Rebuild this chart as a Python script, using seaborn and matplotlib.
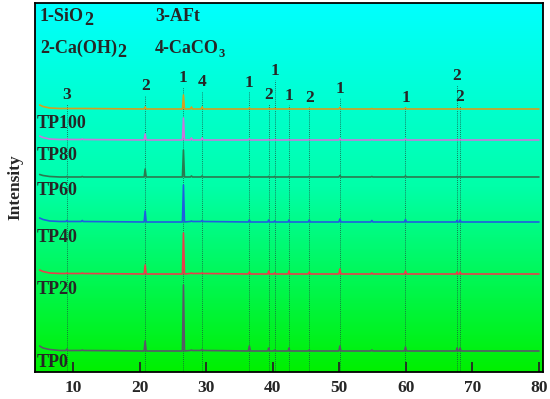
import numpy as np
import pandas as pd
import matplotlib
matplotlib.use("Agg")
import matplotlib.pyplot as plt
from matplotlib.colors import LinearSegmentedColormap
import seaborn as sns

sns.set_style("ticks")
plt.rcParams['font.family'] = ['Liberation Serif', 'DejaVu Serif']
plt.rcParams['font.weight'] = 'bold'
plt.rcParams['mathtext.fontset'] = 'custom'
plt.rcParams['mathtext.rm'] = 'Liberation Serif:bold'
plt.rcParams['mathtext.bf'] = 'Liberation Serif:bold'
plt.rcParams['mathtext.it'] = 'Liberation Serif:bold'

# ---------------- data ----------------
two_theta = [5.0, 5.5, 6.5, 8.0,
             8.95, 9.1, 9.25, 11.25, 11.4, 11.55, 20.7, 20.85, 21.0,
             26.45, 26.6, 26.75, 27.65, 27.8, 27.95, 29.25, 29.4, 29.55,
             36.35, 36.5, 36.65, 39.28, 39.4, 39.52, 40.18, 40.3, 40.42,
             42.33, 42.45, 42.57, 45.35, 45.5, 45.65, 49.95, 50.1, 50.25,
             54.75, 54.9, 55.05, 59.8, 59.95, 60.1, 67.58, 67.7, 67.82,
             68.03, 68.15, 68.3, 80.0]

tp0 = [5, 3, 1.5, 0.5,
       0.5, 2, 0.5, 0.5, 1, 0.5, 0, 10, 0,
       0, 66, 0, 0.5, 1, 0.5, 0.5, 1.5, 0.5,
       0, 5, 0, 0, 3, 0, 0, 1, 0,
       0, 3, 0, 0, 1, 0, 0, 5, 0,
       0, 1, 0, 0, 4, 0, 0, 3, 0,
       0, 3, 0, 0]
tp20 = [4, 2.5, 1, 0.5,
        0.5, 1, 0.5, 0.5, 1, 0.5, 0, 9, 0,
        0, 41, 0, 0.5, 1, 0.5, 0.5, 1, 0.5,
        0, 2, 0, 0, 3, 0, 0, 1, 0,
        0, 3, 0, 0, 2, 0, 0, 5, 0,
        0, 1, 0, 0, 3, 0, 0, 2, 0,
        0, 2, 0, 0]
tp40 = [4, 2.5, 1, 0.5,
        0.5, 1.5, 0.5, 0.5, 1.5, 0.5, 0, 11, 0,
        0, 37, 0, 0.5, 1, 0.5, 0.5, 1.5, 0.5,
        0, 2, 0, 0, 2, 0, 0, 1, 0,
        0, 2, 0, 0, 2, 0, 0, 3, 0,
        0, 1.5, 0, 0, 2.5, 0, 0, 1.5, 0,
        0, 2, 0, 0]
tp60 = [2.5, 1.5, 0.5, 0,
        0, 0.5, 0, 0, 0.5, 0, 0, 8, 0,
        0, 27, 0, 0, 1, 0, 0, 1, 0,
        0, 1, 0, 0, 0.5, 0, 0, 0.5, 0,
        0, 0.5, 0, 0, 0.5, 0, 0, 1.5, 0,
        0, 0.5, 0, 0, 1, 0, 0, 0.5, 0,
        0, 0.5, 0, 0]
tp80 = [4, 2.5, 1, 0.5,
        0.5, 1, 0.5, 0.5, 1, 0.5, 0, 6, 0,
        0, 22, 0, 0, 2, 0, 0, 2, 0,
        0, 1, 0, 0, 0.5, 0, 0, 0.5, 0,
        0, 0.5, 0, 0, 0.5, 0, 0, 1.5, 0,
        0, 0.5, 0, 0, 1, 0, 0, 0.5, 0,
        0, 0.5, 0, 0]
tp100 = [4, 2.5, 1, 0.5,
         0.5, 0.5, 0.5, 0.5, 0.5, 0.5, 0, 2, 0,
         0, 14, 0, 0, 2, 0, 0, 2, 0,
         0, 1, 0, 0, 0.5, 0, 0, 0.5, 0,
         0, 0.5, 0, 0, 0.5, 0, 0, 1.5, 0,
         0, 0.5, 0, 0, 1, 0, 0, 0.5, 0,
         0, 0.5, 0, 0]

samples = ["TP0", "TP20", "TP40", "TP60", "TP80", "TP100"]
series = [tp0, tp20, tp40, tp60, tp80, tp100]
offsets = [21, 98, 150, 195, 232, 263]
colors = ["#5a5868", "#e8404a", "#1f5fe0", "#2a7a50", "#c878dc", "#d4a020"]
label_y = [5, 78, 130, 177, 212, 244]

peak_pos = [9.1, 20.85, 26.6, 29.4, 36.5, 39.4, 40.3, 42.45, 45.5, 50.1, 59.95, 67.7, 68.15]
peak_ids = ["3", "2", "1", "4", "1", "2", "1", "1", "2", "1", "1", "2", "2"]
peak_lab_y = [273, 282, 290, 286, 285, 273, 297, 272, 270, 279, 270, 292, 271]

legend_main = ["1-SiO", "3-AFt", "2-Ca(OH)", "4-CaCO"]
legend_sub = ["2", "", "2", "3"]
xticks = [10, 20, 30, 40, 50, 60, 70, 80]

# ---------------- build frame ----------------
rows = []
for name, vals, off in zip(samples, series, offsets):
    for x, v in zip(two_theta, vals):
        rows.append({"two_theta": x, "intensity": v + off, "sample": name})
df = pd.DataFrame(rows)

fig = plt.figure(figsize=(5.5, 3.99), dpi=100)
ax = fig.add_axes([0.0636, 0.0677, 0.9236, 0.9248])

xlim = (4.3, 80.6)
ylim = (0, 369)

# gradient background
cmap = LinearSegmentedColormap.from_list("bg", ["#00f000", "#00ffa8", "#00ffff"])
grad = np.linspace(0, 1, 256).reshape(-1, 1)
ax.imshow(grad, extent=[xlim[0], xlim[1], ylim[0], ylim[1]], origin="lower",
          aspect="auto", cmap=cmap, zorder=0)

# dotted reference lines
for px, ly in zip(peak_pos, peak_lab_y):
    ax.vlines(px, ylim[0], ly - 5, colors="#1d4a40", linestyles=(0, (1, 1.5)),
              linewidth=0.6, zorder=1)

sns.lineplot(data=df, x="two_theta", y="intensity", hue="sample",
             hue_order=samples, palette=colors, estimator=None, sort=False,
             legend=False, linewidth=1.2, ax=ax, zorder=2)

for name, ly in zip(samples, label_y):
    ax.text(4.6, ly, name, fontsize=13, fontweight="bold", va="baseline",
            ha="left", zorder=3)

for px, pid, ly in zip(peak_pos, peak_ids, peak_lab_y):
    ax.text(px, ly, pid, fontsize=12.5, fontweight="bold", ha="center",
            va="baseline", zorder=3)

leg_x = [5.05, 22.3, 5.05, 22.3]
leg_y = [351, 351, 319, 319]
sub_size = [13, 0, 13, 9]
sub_drop = [4, 0, 4, 4]
fig.canvas.draw()
renderer = fig.canvas.get_renderer()
for t, s, lx, ly, ss, sd in zip(legend_main, legend_sub, leg_x, leg_y, sub_size, sub_drop):
    txt = ax.text(lx, ly, t, fontsize=13, fontweight="bold", ha="left",
                  va="baseline", zorder=3)
    if s:
        bb = txt.get_window_extent(renderer=renderer)
        x_end = ax.transData.inverted().transform((bb.x1, bb.y0))[0]
        ax.text(x_end, ly - sd, s, fontsize=ss, fontweight="bold", ha="left",
                va="baseline", zorder=3)

ax.set_xlim(*xlim)
ax.set_ylim(*ylim)
ax.set_xticks(xticks)
ax.set_xticklabels([str(v) for v in xticks], fontsize=12.5, fontweight="bold")
ax.set_yticks([])
ax.tick_params(axis="x", direction="in", length=7, width=1.3, pad=6)
ax.set_xlabel("")
ax.set_ylabel("Intensity", fontsize=12.5, fontweight="bold", labelpad=8)
for sp in ax.spines.values():
    sp.set_linewidth(1.3)
    sp.set_color("black")
    sp.set_visible(True)

fig.savefig("out.png", dpi=100)
